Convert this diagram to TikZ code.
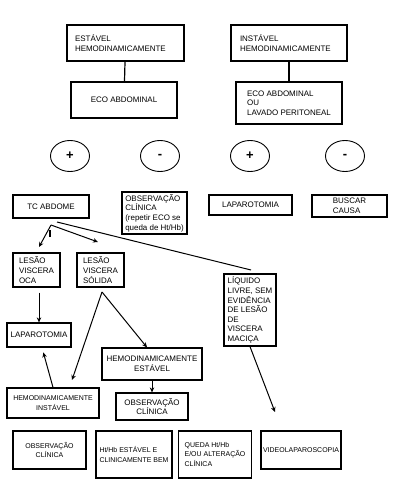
\documentclass[tikz,border=0pt]{standalone}
\usepackage{fontspec}
\setmainfont{Liberation Sans}
\usetikzlibrary{arrows.meta,calc,shapes.geometric}

\tikzset{
	caixa/.style={draw, line width=1.2bp, inner xsep=2bp, inner ysep=1bp, align=left, font=\fontsize{8}{9.6}\selectfont},
	miuda/.style={font=\fontsize{7}{9.4}\selectfont},
	bola/.style={draw, ellipse, line width=0.9bp, minimum width=39bp, minimum height=31bp, inner sep=0pt, font=\bfseries\fontsize{13}{13}\selectfont},
	seta/.style={line width=1bp, -{Stealth[length=5bp,width=4.5bp]}},
	traco/.style={line width=1.2bp},
}

\begin{document}
\begin{tikzpicture}[x=1bp, y=-1bp]
		%%%%% START %%%%%
		
		\fill[white] (0, 0) rectangle (400, 484);
		\useasboundingbox (0, 0) rectangle (400, 484);
		
		\node[caixa, inner xsep=8bp, text width=101bp, minimum height=36bp] (est) at (125.5, 43) {ESTÁVEL\\HEMODINAMICAMENTE};
		\node[caixa, inner xsep=9bp, text width=98bp, minimum height=36bp] (ins) at (289, 43) {INSTÁVEL\\HEMODINAMICAMENTE};
		
		\node[caixa, align=center, minimum width=106bp, minimum height=36bp] (eco) at (124, 100) {ECO ABDOMINAL};
		\node[caixa, minimum width=106bp, minimum height=42bp] (ecol) at (289, 103) {ECO ABDOMINAL\\OU\\LAVADO PERITONEAL};
		
		\node[bola] (mais1) at (70, 156) {+};
		\node[bola] (menos1) at (160, 156) {-};
		\node[bola] (mais2) at (250, 156) {+};
		\node[bola] (menos2) at (345, 156) {-};
		
		\node[caixa, align=center, minimum width=76bp, minimum height=23bp] (tc) at (51, 206.5) {TC ABDOME};
		\node[caixa, minimum width=65bp, minimum height=42bp] (obs) at (154.5, 213) {OBSERVAÇÃO\\CLÍNICA\\(repetir ECO se\\queda de Ht/Hb)};
		\node[caixa, align=center, minimum width=83bp, minimum height=20bp] (lap) at (250.5, 205) {LAPAROTOMIA};
		\node[caixa, minimum width=75bp, minimum height=22bp] (busca) at (349.5, 206) {BUSCAR\\CAUSA};
		
		\node[caixa, minimum width=47bp, minimum height=34bp] (oca) at (36.5, 270) {LESÃO\\VISCERA\\OCA};
		\node[caixa, minimum width=47bp, minimum height=34bp] (solida) at (100.5, 270) {LESÃO\\VISCERA\\SÓLIDA};
		\node[caixa, minimum width=52bp, minimum height=72bp] (liq) at (250, 310) {LÍQUIDO\\LIVRE, SEM\\EVIDÊNCIA\\DE LESÃO\\DE\\VISCERA\\MACIÇA};
		
		\node[caixa, align=center, minimum width=64bp, minimum height=24bp] (lap2) at (39, 335) {LAPAROTOMIA};
		\node[caixa, align=center, minimum width=100bp, minimum height=32bp] (hest) at (152, 364) {HEMODINAMICAMENTE\\ESTÁVEL};
		\node[caixa, miuda, align=center, minimum width=92bp, minimum height=30bp] (hins) at (53, 403) {HEMODINAMICAMENTE\\INSTÁVEL};
		\node[caixa, align=center, minimum width=72bp, minimum height=27bp] (obs2) at (152, 406.5) {OBSERVAÇÃO\\CLÍNICA};
		
		\node[caixa, miuda, align=center, minimum width=73bp, minimum height=38bp] (obs3) at (49.5, 450) {OBSERVAÇÃO\\CLÍNICA};
		\node[caixa, miuda, minimum width=76bp, minimum height=47bp] (htbem) at (134, 454.5) {Ht/Hb ESTÁVEL E\\CLINICAMENTE BEM};
		\node[caixa, miuda, minimum width=73bp, minimum height=47bp] (queda) at (215, 454.5) {QUEDA Ht/Hb\\E/OU ALTERAÇÃO\\CLÍNICA};
		\node[caixa, miuda, minimum width=80bp, minimum height=38bp] (video) at (301, 450) {VIDEOLAPAROSCOPIA};
		
		\coordinate (garfo) at (51, 225);
		\coordinate (garfo2) at (57, 222);
		\coordinate (pontaoca) at (39, 247);
		\coordinate (pontasol) at (98, 242);
		\coordinate (pontaliq) at (251, 270);
		\coordinate (saisol) at (102, 292);
		\coordinate (pontains) at (72, 380);
		\coordinate (pontavideo) at (275, 412);
		
		\draw[traco] (est) -- (eco);
		\draw[traco] (ins) -- (ecol);
		
		\draw[seta] (garfo) -- (pontaoca);
		\draw[seta] (garfo) -- (pontasol);
		\draw[line width=1bp] (garfo2) -- (pontaliq);
		\draw[line width=1.5bp] (50, 230) -- (50, 237);
		
		\draw[seta, shorten <=5bp] (oca.south -| lap2.north) -- (lap2.north);
		\draw[seta] (saisol) -- ($(hest.north)+(-5, 0)$);
		\draw[seta] (saisol) -- (pontains);
		\draw[seta, shorten >=5bp] (hins.north) -- ($(lap2.south)+(3, 0)$);
		\draw[seta] (hest) -- (obs2);
		\draw[seta] (liq.south) -- (pontavideo);
		
		%%%%% END %%%%%
	\end{tikzpicture}
\end{document}
